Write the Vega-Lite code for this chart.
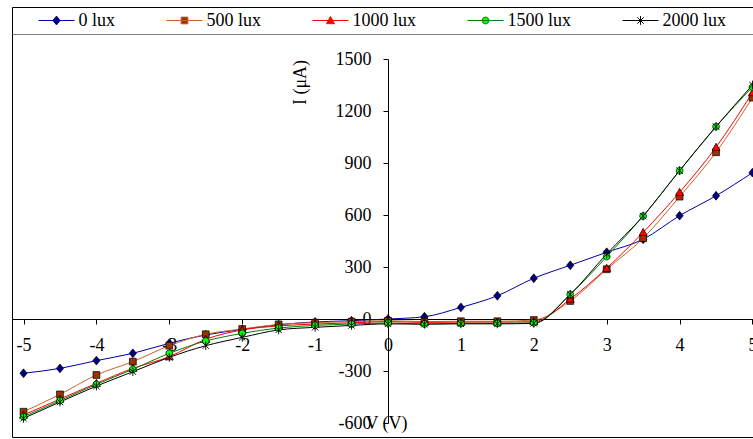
{
  "$schema": "https://vega.github.io/schema/vega-lite/v6.json",
  "width": 741,
  "height": 430,
  "autosize": {"type": "none"},
  "padding": {"left": 12, "top": 7, "right": 0, "bottom": 2},
  "config": {
    "font": "Liberation Serif",
    "view": {"stroke": "#000000", "strokeWidth": 1},
    "legend": {"labelFont": "Liberation Serif", "labelFontSize": 18, "labelColor": "#000000"},
    "axis": {
      "grid": false,
      "labelFont": "Liberation Serif",
      "labelFontSize": 18,
      "labelColor": "#000000",
      "titleFont": "Liberation Serif",
      "titleFontSize": 18,
      "titleFontWeight": "normal",
      "titleColor": "#000000",
      "domainColor": "#000000",
      "tickColor": "#000000",
      "tickSize": 5,
      "labelPadding": 12,
      "labelOverlap": false,
      "labelFlush": false,
      "labelBound": false
    }
  },
  "data": {
    "values": [
      {"V": -5, "I": -313, "series": "0 lux"}, {"V": -4.5, "I": -285, "series": "0 lux"}, {"V": -4, "I": -240, "series": "0 lux"}, {"V": -3.5, "I": -198, "series": "0 lux"}, {"V": -3, "I": -140, "series": "0 lux"}, {"V": -2.5, "I": -92, "series": "0 lux"}, {"V": -2, "I": -60, "series": "0 lux"}, {"V": -1.5, "I": -33, "series": "0 lux"}, {"V": -1, "I": -17, "series": "0 lux"}, {"V": -0.5, "I": -10, "series": "0 lux"}, {"V": 0, "I": 0, "series": "0 lux"}, {"V": 0.5, "I": 13, "series": "0 lux"}, {"V": 1, "I": 67, "series": "0 lux"}, {"V": 1.5, "I": 134, "series": "0 lux"}, {"V": 2, "I": 235, "series": "0 lux"}, {"V": 2.5, "I": 310, "series": "0 lux"}, {"V": 3, "I": 385, "series": "0 lux"}, {"V": 3.5, "I": 460, "series": "0 lux"}, {"V": 4, "I": 596, "series": "0 lux"}, {"V": 4.5, "I": 711, "series": "0 lux"}, {"V": 5, "I": 844, "series": "0 lux"},
      {"V": -5, "I": -535, "series": "500 lux"}, {"V": -4.5, "I": -435, "series": "500 lux"}, {"V": -4, "I": -323, "series": "500 lux"}, {"V": -3.5, "I": -246, "series": "500 lux"}, {"V": -3, "I": -154, "series": "500 lux"}, {"V": -2.5, "I": -88, "series": "500 lux"}, {"V": -2, "I": -58, "series": "500 lux"}, {"V": -1.5, "I": -31, "series": "500 lux"}, {"V": -1, "I": -21, "series": "500 lux"}, {"V": -0.5, "I": -15, "series": "500 lux"}, {"V": 0, "I": -10, "series": "500 lux"}, {"V": 0.5, "I": -15, "series": "500 lux"}, {"V": 1, "I": -13, "series": "500 lux"}, {"V": 1.5, "I": -13, "series": "500 lux"}, {"V": 2, "I": -6, "series": "500 lux"}, {"V": 2.5, "I": 104, "series": "500 lux"}, {"V": 3, "I": 287, "series": "500 lux"}, {"V": 3.5, "I": 466, "series": "500 lux"}, {"V": 4, "I": 706, "series": "500 lux"}, {"V": 4.5, "I": 962, "series": "500 lux"}, {"V": 5, "I": 1277, "series": "500 lux"},
      {"V": -5, "I": -554, "series": "1000 lux"}, {"V": -4.5, "I": -462, "series": "1000 lux"}, {"V": -4, "I": -371, "series": "1000 lux"}, {"V": -3.5, "I": -285, "series": "1000 lux"}, {"V": -3, "I": -217, "series": "1000 lux"}, {"V": -2.5, "I": -117, "series": "1000 lux"}, {"V": -2, "I": -63, "series": "1000 lux"}, {"V": -1.5, "I": -40, "series": "1000 lux"}, {"V": -1, "I": -29, "series": "1000 lux"}, {"V": -0.5, "I": -22, "series": "1000 lux"}, {"V": 0, "I": -15, "series": "1000 lux"}, {"V": 0.5, "I": -20, "series": "1000 lux"}, {"V": 1, "I": -18, "series": "1000 lux"}, {"V": 1.5, "I": -18, "series": "1000 lux"}, {"V": 2, "I": -15, "series": "1000 lux"}, {"V": 2.5, "I": 115, "series": "1000 lux"}, {"V": 3, "I": 293, "series": "1000 lux"}, {"V": 3.5, "I": 500, "series": "1000 lux"}, {"V": 4, "I": 731, "series": "1000 lux"}, {"V": 4.5, "I": 991, "series": "1000 lux"}, {"V": 5, "I": 1306, "series": "1000 lux"},
      {"V": -5, "I": -564, "series": "1500 lux"}, {"V": -4.5, "I": -471, "series": "1500 lux"}, {"V": -4, "I": -377, "series": "1500 lux"}, {"V": -3.5, "I": -290, "series": "1500 lux"}, {"V": -3, "I": -198, "series": "1500 lux"}, {"V": -2.5, "I": -127, "series": "1500 lux"}, {"V": -2, "I": -83, "series": "1500 lux"}, {"V": -1.5, "I": -52, "series": "1500 lux"}, {"V": -1, "I": -37, "series": "1500 lux"}, {"V": -0.5, "I": -29, "series": "1500 lux"}, {"V": 0, "I": -23, "series": "1500 lux"}, {"V": 0.5, "I": -29, "series": "1500 lux"}, {"V": 1, "I": -25, "series": "1500 lux"}, {"V": 1.5, "I": -25, "series": "1500 lux"}, {"V": 2, "I": -22, "series": "1500 lux"}, {"V": 2.5, "I": 142, "series": "1500 lux"}, {"V": 3, "I": 360, "series": "1500 lux"}, {"V": 3.5, "I": 594, "series": "1500 lux"}, {"V": 4, "I": 856, "series": "1500 lux"}, {"V": 4.5, "I": 1110, "series": "1500 lux"}, {"V": 5, "I": 1338, "series": "1500 lux"},
      {"V": -5, "I": -573, "series": "2000 lux"}, {"V": -4.5, "I": -479, "series": "2000 lux"}, {"V": -4, "I": -387, "series": "2000 lux"}, {"V": -3.5, "I": -304, "series": "2000 lux"}, {"V": -3, "I": -221, "series": "2000 lux"}, {"V": -2.5, "I": -154, "series": "2000 lux"}, {"V": -2, "I": -106, "series": "2000 lux"}, {"V": -1.5, "I": -63, "series": "2000 lux"}, {"V": -1, "I": -48, "series": "2000 lux"}, {"V": -0.5, "I": -37, "series": "2000 lux"}, {"V": 0, "I": -28, "series": "2000 lux"}, {"V": 0.5, "I": -30, "series": "2000 lux"}, {"V": 1, "I": -28, "series": "2000 lux"}, {"V": 1.5, "I": -28, "series": "2000 lux"}, {"V": 2, "I": -25, "series": "2000 lux"}, {"V": 2.5, "I": 142, "series": "2000 lux"}, {"V": 3, "I": 375, "series": "2000 lux"}, {"V": 3.5, "I": 594, "series": "2000 lux"}, {"V": 4, "I": 856, "series": "2000 lux"}, {"V": 4.5, "I": 1110, "series": "2000 lux"}, {"V": 5, "I": 1350, "series": "2000 lux"}
    ]
  },
  "layer": [
    {
      "mark": {"type": "line", "interpolate": "monotone", "strokeWidth": 1},
      "encoding": {
        "x": {
          "field": "V", "type": "quantitative",
          "scale": {"domain": [-5.158, 5.007], "nice": false, "zero": false},
          "axis": {"orient": "bottom", "offset": -118, "values": [-5, -4, -3, -2, -1, 0, 1, 2, 3, 4, 5], "labelExpr": "'' + datum.value", "title": "V (V)", "titleX": 374, "titleY": 104, "titleBaseline": "middle"}
        },
        "y": {
          "field": "I", "type": "quantitative",
          "scale": {"domain": [-600, 1500], "rangeMin": 416, "rangeMax": 52, "nice": false, "zero": false},
          "axis": {"orient": "left", "offset": -376, "values": [-600, -300, 0, 300, 600, 900, 1200, 1500], "labelExpr": "'' + datum.value", "title": "I (μA)", "titleAngle": -90, "titleX": -88, "titleY": 75, "titleAlign": "center", "titleBaseline": "middle"}
        },
        "stroke": {
          "field": "series", "type": "nominal",
          "scale": {"domain": ["0 lux", "500 lux", "1000 lux", "1500 lux", "2000 lux"], "range": ["#0000A0", "#C8642D", "#FF0000", "#008000", "#000000"]},
          "legend": {
            "orient": "none", "legendX": 31, "legendY": 0, "direction": "horizontal", "columns": 5,
            "columnPadding": 49, "labelOffset": 13, "symbolSize": 64, "symbolStrokeWidth": 1, "padding": 4.5,
            "labelFont": "Liberation Serif", "labelFontSize": 18, "labelColor": "#000000", "title": null
          }
        }
      }
    },
    {
      "transform": [{"filter": "false"}],
      "mark": {"type": "point", "filled": true, "opacity": 1},
      "encoding": {
        "x": {
          "field": "V", "type": "quantitative",
          "axis": {"orient": "top", "offset": -27, "labels": false, "ticks": false, "domainColor": "#808080", "title": null}
        },
        "y": {"field": "I", "type": "quantitative"},
        "shape": {
          "field": "series", "type": "nominal",
          "scale": {"domain": ["0 lux", "500 lux", "1000 lux", "1500 lux", "2000 lux"], "range": [
            "M-4.5,0H4.5M0,-1.1L0.9,0L0,1.1L-0.9,0Z",
            "M-4.5,0H4.5M-0.85,-0.85H0.85V0.85H-0.85Z",
            "M-4.5,0H4.5M0,-1L1,0.8H-1Z",
            "M-4.5,0H4.5M-0.85,0A0.85,0.85,0,1,0,0.85,0A0.85,0.85,0,1,0,-0.85,0Z",
            "M-4.5,0H4.5M-0.8,-0.8L0.8,0.8M-0.8,0.8L0.8,-0.8M0,-1.1V1.1"
          ]}
        },
        "fill": {
          "field": "series", "type": "nominal",
          "scale": {"domain": ["0 lux", "500 lux", "1000 lux", "1500 lux", "2000 lux"], "range": ["#000080", "#993300", "#FF0000", "#00FF00", "#000000"]}
        }
      }
    },
    {
      "transform": [{"filter": "datum.series === '0 lux'"}],
      "mark": {"type": "point", "shape": "M0,-1.1L0.9,0L0,1.1L-0.9,0Z", "filled": true, "fill": "#000080", "stroke": "#000000", "strokeWidth": 0.7, "opacity": 1, "size": 64},
      "encoding": {"x": {"field": "V", "type": "quantitative", "axis": null}, "y": {"field": "I", "type": "quantitative"}}
    },
    {
      "transform": [{"filter": "datum.series === '500 lux'"}],
      "mark": {"type": "point", "shape": "M-0.85,-0.85H0.85V0.85H-0.85Z", "filled": true, "fill": "#993300", "stroke": "#000000", "strokeWidth": 0.7, "opacity": 1, "size": 64},
      "encoding": {"x": {"field": "V", "type": "quantitative", "axis": null}, "y": {"field": "I", "type": "quantitative"}}
    },
    {
      "transform": [{"filter": "datum.series === '1000 lux'"}],
      "mark": {"type": "point", "shape": "M0,-1L1,0.8H-1Z", "filled": true, "fill": "#FF0000", "stroke": "#000000", "strokeWidth": 0.7, "opacity": 1, "size": 64},
      "encoding": {"x": {"field": "V", "type": "quantitative", "axis": null}, "y": {"field": "I", "type": "quantitative"}}
    },
    {
      "transform": [{"filter": "datum.series === '1500 lux'"}],
      "mark": {"type": "point", "shape": "M-0.85,0A0.85,0.85,0,1,0,0.85,0A0.85,0.85,0,1,0,-0.85,0Z", "filled": true, "fill": "#00FF00", "stroke": "#000000", "strokeWidth": 0.7, "opacity": 1, "size": 64},
      "encoding": {"x": {"field": "V", "type": "quantitative", "axis": null}, "y": {"field": "I", "type": "quantitative"}}
    },
    {
      "transform": [{"filter": "datum.series === '2000 lux'"}],
      "mark": {"type": "point", "shape": "M-0.8,-0.8L0.8,0.8M-0.8,0.8L0.8,-0.8M0,-1.1V1.1", "filled": true, "fill": "#000000", "stroke": "#000000", "strokeWidth": 0.9, "opacity": 1, "size": 64},
      "encoding": {"x": {"field": "V", "type": "quantitative", "axis": null}, "y": {"field": "I", "type": "quantitative"}}
    }
  ],
  "resolve": {"axis": {"x": "independent"}}
}
